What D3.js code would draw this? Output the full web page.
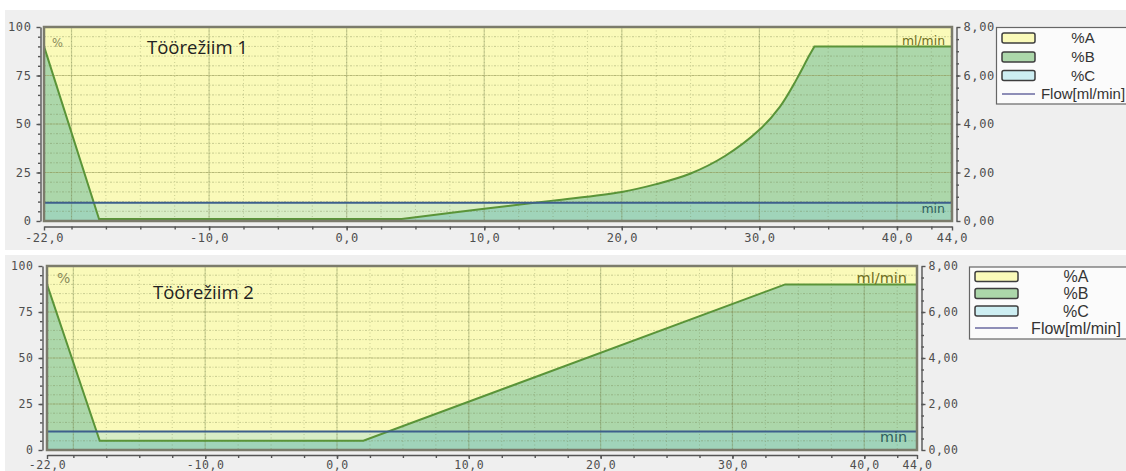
<!DOCTYPE html>
<html><head><meta charset="utf-8">
<script src="https://cdn.jsdelivr.net/npm/d3@7"></script>
<style>body{margin:0;background:#fff;overflow:hidden}</style>
</head><body><svg id="c" width="1126" height="471"></svg>
<script>
// ---------- data ----------
const xTickValues = [-22, -10, 0, 10, 20, 30, 40, 44];
const pctTickValues = [0, 25, 50, 75, 100];
const flowTickValues = [0, 2, 4, 6, 8];
const legendLabels = ["%A", "%B", "%C", "Flow[ml/min]"];
const panelTitles = ["Töörežiim 1", "Töörežiim 2"];
const xDomain = [-22, 44];
const pctDomain = [0, 100];
const flowDomain = [0, 8];

const timeB1  = [-22, -18, 4, 10, 15, 20, 22.5, 25, 27.5, 30, 31.5, 32.7, 33.6, 34, 44];
const valueB1 = [90,   1,  1, 6.3, 10.5, 15, 19, 24.5, 33.5, 47, 59, 73, 85, 90, 90];
const smoothFrom1 = 4, smoothTo1 = 34;   // time span drawn as a smooth curve
const timeB2  = [-22, -18, 2, 34, 44];
const valueB2 = [90,   5,  5, 90, 90];
const flowTime = [-22, 44];
const flowValue1 = [0.75, 0.75];
const flowValue2 = [0.8, 0.8];

// ---------- style / layout ----------
const COL = {bg:"#efefef", yellow:"#fafab9", green:"#acd7aa", cyan:"#cdeef2",
  bLine:"#5a9438", flow:"#3d5f8c", legFlow:"#6a6aa0", border:"#7b7b6b", axis:"#555"};

const panels = [
  {bg:[5,10,1121,240], l:44, r:952, t:27, b:221, axL:40.5, axR:956.5, axB:226.5, tickFs:12, tickPad:3,
   title:[147,54,18.5], pct:[52,46.5,11.5], ml:[945,45,12.4], mn:[945,213,12.5],
   legend:{x:996.5,y:27.5,w:140,h:76.5,swX:1002,swW:33,swH:10,rows:[38,57,75.5,94],textX:1083,fs:15}},
  {bg:[5,255,1121,216], l:47, r:917, t:266, b:450, axL:42.5, axR:921.5, axB:455, tickFs:11.5, tickPad:1.5,
   title:[153,299,18.5], pct:[57,283,14], ml:[907,283,14.5], mn:[907,442,14.3],
   legend:{x:969.5,y:267,w:170,h:72,swX:975,swW:43,swH:10,rows:[276.5,293.5,311,328],textX:1076,fs:16}}
];

const svg = d3.select("#c");
const fmt1 = d => d.toFixed(1).replace(".", ",");
const fmt2 = d => d.toFixed(2).replace(".", ",");

// linear outside [s0,s1], Catmull-Rom inside
function pathB(data, s0, s1, x, y) {
  const lin = d3.line().x(d => x(d.t)).y(d => y(d.v));
  if (s0 == null) return lin(data);
  const a = data.filter(d => d.t <= s0), m = data.filter(d => d.t >= s0 && d.t <= s1), b = data.filter(d => d.t >= s1);
  const cr = d3.line().x(d => x(d.t)).y(d => y(d.v)).curve(d3.curveCatmullRom.alpha(0.5));
  return lin(a) + "L" + cr(m).slice(1) + "L" + lin(b).slice(1);
}

function drawPanel(cfg, idx, times, values, flowVals, title, s0, s1) {
  const x = d3.scaleLinear().domain(xDomain).range([cfg.l, cfg.r]);
  const y = d3.scaleLinear().domain(pctDomain).range([cfg.b, cfg.t]);
  const yF = d3.scaleLinear().domain(flowDomain).range([cfg.b, cfg.t]);
  const g = svg.append("g");

  g.append("rect").attr("x", cfg.bg[0]).attr("y", cfg.bg[1]).attr("width", cfg.bg[2]).attr("height", cfg.bg[3]).attr("fill", COL.bg);

  const clipId = "clip" + idx;
  g.append("clipPath").attr("id", clipId).append("rect")
    .attr("x", cfg.l).attr("y", cfg.t).attr("width", cfg.r - cfg.l).attr("height", cfg.b - cfg.t);
  const p = g.append("g").attr("clip-path", `url(#${clipId})`);

  const bData = times.map((t, i) => ({t, v: values[i]}));
  const fData = flowTime.map((t, i) => ({t, v: flowVals[i]}));
  const bPath = pathB(bData, s0, s1, x, y);
  const x0 = x(xDomain[0]), x1 = x(xDomain[1]);

  // %A (everything up to 100)
  p.append("rect").attr("x", cfg.l).attr("y", y(100)).attr("width", cfg.r - cfg.l).attr("height", y(0) - y(100))
    .attr("fill", COL.yellow);
  // %B
  p.append("path").attr("fill", COL.green)
    .attr("d", bPath + `L${x1},${y(0)}L${x0},${y(0)}Z`);
  // flow tint
  p.append("path").datum(fData).attr("fill", "rgba(130,205,230,0.28)")
    .attr("d", d3.area().x(d => x(d.t)).y0(yF(0)).y1(d => yF(d.v)));

  // grid
  const minorX = d3.range(-20, 44.01, 2.5);
  const majorX = d3.range(-20, 44, 10);
  const minorY = d3.range(5, 100, 5);
  const majorY = [25, 50, 75];
  p.selectAll(null).data(minorX).join("line")
    .attr("x1", d => x(d)).attr("x2", d => x(d)).attr("y1", cfg.t).attr("y2", cfg.b)
    .attr("stroke", "rgba(110,120,70,0.35)").attr("stroke-dasharray", "1,2.5").attr("stroke-width", 1);
  p.selectAll(null).data(minorY).join("line")
    .attr("y1", d => y(d)).attr("y2", d => y(d)).attr("x1", cfg.l).attr("x2", cfg.r)
    .attr("stroke", "rgba(110,120,70,0.35)").attr("stroke-dasharray", "2,1.5,1,1.5").attr("stroke-width", 1);
  p.selectAll(null).data(majorX).join("line")
    .attr("x1", d => x(d)).attr("x2", d => x(d)).attr("y1", cfg.t).attr("y2", cfg.b)
    .attr("stroke", "rgba(120,135,80,0.35)").attr("stroke-width", 1.2);
  p.selectAll(null).data(majorY).join("line")
    .attr("y1", d => y(d)).attr("y2", d => y(d)).attr("x1", cfg.l).attr("x2", cfg.r)
    .attr("stroke", "rgba(150,150,80,0.4)").attr("stroke-width", 1.2);

  // lines
  p.append("path").attr("fill", "none").attr("stroke", COL.bLine).attr("stroke-width", 2).attr("d", bPath);
  p.append("path").datum(fData).attr("fill", "none").attr("stroke", COL.flow).attr("stroke-width", 2)
    .attr("d", d3.line().x(d => x(d.t)).y(d => yF(d.v)));

  // border
  g.append("rect").attr("x", cfg.l).attr("y", cfg.t).attr("width", cfg.r - cfg.l).attr("height", cfg.b - cfg.t)
    .attr("fill", "none").attr("stroke", COL.border).attr("stroke-width", 2.5);

  // inner texts
  g.append("text").attr("x", cfg.title[0]).attr("y", cfg.title[1]).text(title)
    .attr("font-family", "Open Sans").attr("font-size", cfg.title[2]).attr("fill", "#222");
  g.append("text").attr("x", cfg.pct[0]).attr("y", cfg.pct[1]).text("%")
    .attr("font-family", "DejaVu Sans").attr("font-size", cfg.pct[2]).attr("fill", "#8a8a5a");
  g.append("text").attr("x", cfg.ml[0]).attr("y", cfg.ml[1]).text("ml/min").attr("text-anchor", "end")
    .attr("font-family", "DejaVu Sans").attr("font-size", cfg.ml[2]).attr("fill", "#6e6e22");
  g.append("text").attr("x", cfg.mn[0]).attr("y", cfg.mn[1]).text("min").attr("text-anchor", "end")
    .attr("font-family", "DejaVu Sans").attr("font-size", cfg.mn[2]).attr("fill", "#2d5e5e");

  // axes
  const styleAxis = sel => {
    sel.selectAll("path,line").attr("stroke", COL.axis).attr("stroke-width", 1.4);
    sel.selectAll("text").attr("font-family", "DejaVu Sans Mono").attr("font-size", cfg.tickFs)
      .attr("fill", "#4e4e4e").attr("letter-spacing", "0.6px");
  };
  g.append("g").attr("transform", `translate(0,${cfg.axB})`)
    .call(d3.axisBottom(x).tickValues(xTickValues).tickFormat(fmt1).tickSize(4).tickSizeOuter(0).tickPadding(cfg.tickPad))
    .call(styleAxis);
  g.append("g").attr("transform", `translate(0,${cfg.axB})`)
    .call(d3.axisBottom(x).tickValues(minorX).tickFormat("").tickSize(3))
    .call(s => s.select(".domain").remove()).call(styleAxis);

  g.append("g").attr("transform", `translate(${cfg.axL},0)`)
    .call(d3.axisLeft(y).tickValues(pctTickValues).tickFormat(d3.format("d")).tickSize(4).tickSizeOuter(0).tickPadding(5))
    .call(styleAxis);
  g.append("g").attr("transform", `translate(${cfg.axL},0)`)
    .call(d3.axisLeft(y).tickValues(minorY).tickFormat("").tickSize(2.5))
    .call(s => s.select(".domain").remove()).call(styleAxis);

  g.append("g").attr("transform", `translate(${cfg.axR},0)`)
    .call(d3.axisRight(yF).tickValues(flowTickValues).tickFormat(fmt2).tickSize(4).tickSizeOuter(0).tickPadding(3))
    .call(styleAxis);
  g.append("g").attr("transform", `translate(${cfg.axR},0)`)
    .call(d3.axisRight(yF).tickValues(d3.range(0.5, 8, 0.5)).tickFormat("").tickSize(2.5))
    .call(s => s.select(".domain").remove()).call(styleAxis);

  // legend
  const L = cfg.legend;
  const lg = g.append("g");
  lg.append("rect").attr("x", L.x).attr("y", L.y).attr("width", L.w).attr("height", L.h)
    .attr("fill", "#fbfbfb").attr("stroke", "#666").attr("stroke-width", 1.2);
  const swFills = [COL.yellow, COL.green, COL.cyan];
  legendLabels.forEach((lab, i) => {
    const cy = L.rows[i];
    if (i < 3) {
      lg.append("rect").attr("x", L.swX).attr("y", cy - L.swH / 2).attr("width", L.swW).attr("height", L.swH)
        .attr("rx", 2).attr("fill", swFills[i]).attr("stroke", "#3e3e3e").attr("stroke-width", 1.5);
    } else {
      lg.append("line").attr("x1", L.swX).attr("x2", L.swX + L.swW).attr("y1", cy).attr("y2", cy)
        .attr("stroke", COL.legFlow).attr("stroke-width", 1.3);
    }
    lg.append("text").attr("x", L.textX).attr("y", cy + L.fs * 0.36).attr("text-anchor", "middle")
      .attr("font-family", "Liberation Sans").attr("font-size", L.fs).attr("fill", "#333").text(lab);
  });
}

drawPanel(panels[0], 0, timeB1, valueB1, flowValue1, panelTitles[0], smoothFrom1, smoothTo1);
drawPanel(panels[1], 1, timeB2, valueB2, flowValue2, panelTitles[1], null, null);
</script></body></html>
